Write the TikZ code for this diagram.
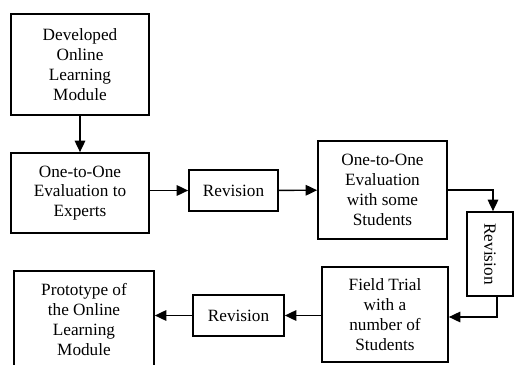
\documentclass[tikz,border=0pt]{standalone}
\usepackage{fontspec}
\setmainfont{Liberation Serif}
\usetikzlibrary{positioning, arrows.meta}

\begin{document}
\begin{tikzpicture}[
    x=0.02cm,
    y=-0.02cm,
    >={Triangle[width=6pt,length=6.5pt]},
    line width=0.8pt,
    every node/.style={font=\fontsize{9.8}{11.3}\selectfont, align=center},
    stage/.style={draw, line width=1pt, inner sep=2pt}
]
    \useasboundingbox (0,0) rectangle (514,365);

    % Stages of the module development:
    \node[stage, minimum width=2.76cm, minimum height=2.02cm] (dev) at (80,64.5) {Developed\\Online\\Learning\\Module};
    \node[stage, minimum width=2.76cm, minimum height=1.6cm] (expert) at (80,193) {One-to-One\\Evaluation to\\Experts};
    \node[stage, minimum width=1.78cm, minimum height=0.82cm] (revA) at (233.5,190.5) {Revision};
    \node[stage, minimum width=2.58cm, minimum height=1.96cm] (student) at (382.5,190) {One-to-One\\Evaluation\\with some\\Students};
    \node[stage, rotate=-90, minimum width=1.68cm, minimum height=0.92cm] (revB) at (490,254) {Revision};
    \node[stage, minimum width=2.52cm, minimum height=1.9cm] (field) at (385,314.5) {Field Trial\\with a\\number of\\Students};
    \node[stage, minimum width=1.82cm, minimum height=0.82cm] (revC) at (238.5,315.5) {Revision};
    \node[stage, minimum width=2.8cm, minimum height=1.94cm] (proto) at (84,319.5) {Prototype of\\the Online\\Learning\\Module};

    \path[->]
        (dev) edge (expert)
        (expert.east |- revA) edge (revA)
        (revA) edge (student)
        (field.west |- revC) edge (revC)
        (revC) edge (proto.east |- revC);
    \draw[->] (student.east) -| ([xshift=0.06cm]revB.west);
    \draw[->] ([xshift=0.14cm]revB.east) |- ([yshift=-0.05cm]field.east);
\end{tikzpicture}
\end{document}
